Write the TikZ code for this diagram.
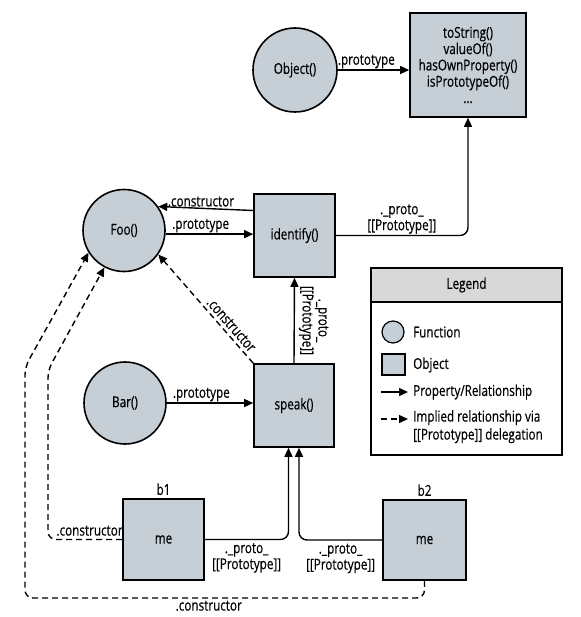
\documentclass[tikz,border=0pt]{standalone}
\usepackage{fontspec}
\setmainfont[FakeStretch=0.78, FakeBold=0.4]{Open Sans}
\usetikzlibrary{arrows.meta}
\definecolor{objfill}{RGB}{198,206,214}
\definecolor{headfill}{RGB}{216,216,216}
\tikzset{
  every node/.style={font=\fontsize{15}{16}\selectfont, inner sep=1pt},
  fnnode/.style={circle, draw, line width=1.6pt, fill=objfill, minimum size=#1, inner sep=0pt},
  objnode/.style={rectangle, draw, line width=1.6pt, fill=objfill, inner sep=0pt},
  arr/.style={line width=1.4pt, -{Triangle[length=9pt,width=8pt]}},
  darr/.style={arr, dash pattern=on 6pt off 4pt},
  lbl/.style={align=center, font=\fontsize{15}{16}\selectfont},
}
\begin{document}
\begin{tikzpicture}[x=1pt,y=-1pt]
\useasboundingbox (0,0) rectangle (580,617);

% Nodes
\node[fnnode=84pt] (obj) at (295,70) {Object()};
\node[objnode, minimum width=116pt, minimum height=104pt, align=center, font=\fontsize{15}{16.3}\selectfont] (objbox) at (468,65) {toString()\\valueOf()\\hasOwnProperty()\\isPrototypeOf()\\...};
\node[fnnode=82pt] (foo) at (124,230.5) {Foo()};
\node[objnode, minimum width=81pt, minimum height=83pt] (ident) at (294.5,235.5) {identify()};
\node[fnnode=82pt] (bar) at (125,403) {Bar()};
\node[objnode, minimum width=80pt, minimum height=83pt] (speak) at (294,405.5) {speak()};
\node[objnode, minimum width=81pt, minimum height=81pt] (me1) at (163.5,539.5) {me};
\node[objnode, minimum width=83pt, minimum height=80pt] (me2) at (424.5,540) {me};
\node[anchor=south] (b1) at (me1.north) [yshift=2pt] {b1};
\node[anchor=south] (b2) at (me2.north) [yshift=2pt] {b2};

% Connectors
\draw[arr] (obj.east) -- node[above, pos=0.4] {.prototype} (obj.east -| objbox.west);
\draw[arr] ([yshift=25pt]ident.west) -- node[above, pos=0.55] {.constructor} (foo.35);
\draw[arr] (foo.-5) -- node[above, pos=0.4] {.prototype} (foo.-5 -| ident.west);
\draw[arr, rounded corners=8pt] (ident.east) -| node[lbl, pos=0.25, above] {.\_proto\_\\{[[Prototype]]}} (objbox.south);
\draw[arr] (speak.north) -- node[lbl, midway, rotate=-90, anchor=south, yshift=3pt] {.\_proto\_\\{[[Prototype]]}} (ident.south);
\draw[darr] (speak.north west) -- node[pos=0.3, sloped, above, yshift=2pt] {.constructor} (foo.-35);
\draw[arr] (bar.east) -- node[above, pos=0.4] {.prototype} (bar.east -| speak.west);
\draw[arr, rounded corners=8pt] (me1.east) -| node[lbl, pos=0.25, below, yshift=-2pt] {.\_proto\_\\{[[Prototype]]}} ([xshift=-5.5pt]speak.south);
\draw[arr, rounded corners=8pt] (me2.west) -| node[lbl, pos=0.25, below, yshift=-2pt] {.\_proto\_\\{[[Prototype]]}} ([xshift=5pt]speak.south);

\coordinate (c1) at (48,370);
\coordinate (c2) at (25,367);
\coordinate (c3) at (25,598);
\draw[darr, rounded corners=8pt] (me1.west) -| node[pos=0.22, above, yshift=2pt] {.constructor} (c1) -- (foo.242);
\draw[darr, rounded corners=8pt] (me2.south) |- node[pos=0.77, below, yshift=-1pt] {.constructor} (c3) -- (c2) -- (foo.212);

% Legend
\node[rectangle, draw, line width=1.2pt, minimum width=191pt, minimum height=187pt] (leg) at (466.5,361.5) {};
\node[rectangle, draw, line width=1.2pt, fill=headfill, minimum width=191pt, minimum height=34pt, anchor=north] (leghead) at (leg.north) {Legend};
\node[fnnode=22pt, line width=1.2pt] (lfn) at (393,332) {};
\node[anchor=west] (lfnt) at (412,332) {Function};
\node[objnode, line width=1.2pt, minimum width=23pt, minimum height=21pt] (lobj) at (393.5,364.5) {};
\node[anchor=west] (lobjt) at (412,365) {Object};
\coordinate (la1) at (381,392);
\coordinate (la2) at (408,392);
\draw[arr] (la1) -- (la2);
\node[anchor=west] (lprop) at (412,392) {Property/Relationship};
\coordinate (lb1) at (381,419);
\coordinate (lb2) at (408,419);
\draw[darr] (lb1) -- (lb2);
\node[anchor=north west, align=left, font=\fontsize{15}{18}\selectfont] (limp) at (412,409) {Implied relationship via\\{[[Prototype]]} delegation};
\end{tikzpicture}
\end{document}
